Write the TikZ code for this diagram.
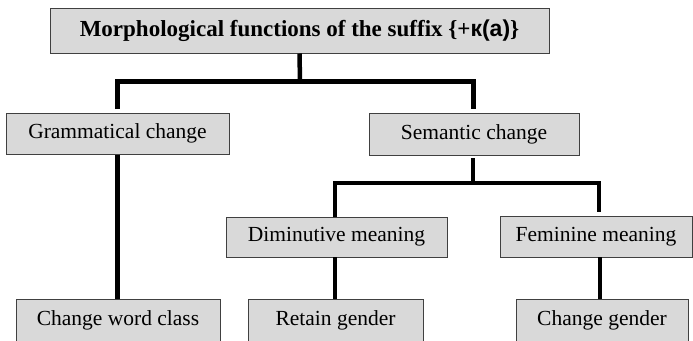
\documentclass[tikz,border=0pt]{standalone}
\usepackage{fontspec}
\setmainfont{Liberation Serif}
\newfontfamily\cyrsans{Liberation Sans}
\definecolor{boxfill}{HTML}{D9D9D9}
\definecolor{boxline}{HTML}{404040}
\begin{document}
\begin{tikzpicture}[x=1pt,y=-1pt,
  box/.style={draw=boxline, line width=1pt, fill=boxfill, inner sep=0pt,
    font=\fontsize{21.5}{24}\selectfont},
  conn/.style={line width=4.5pt, draw=black}]
\useasboundingbox (0,0) rectangle (693,340);
\node[box, minimum width=499pt, minimum height=45pt] (top) at (299.5,30.5)
  {\fontsize{23}{26}\selectfont\bfseries Morphological functions of the suffix \{+{\cyrsans к(а)}\}};
\node[box, minimum width=223pt, minimum height=41pt] (gram) at (117.5,133.5) {Grammatical change};
\node[box, minimum width=210pt, minimum height=42pt] (sem) at (474,134) {Semantic change};
\node[box, minimum width=204pt, minimum height=42pt] (cwc) at (118,320) {Change word class};
\node[box, minimum width=221pt, minimum height=40pt] (dim) at (336.5,237) {Diminutive meaning};
\node[box, minimum width=192pt, minimum height=41pt] (fem) at (596,236.5) {Feminine meaning};
\node[box, minimum width=175pt, minimum height=42pt] (ret) at (335.5,320) {Retain gender};
\node[box, minimum width=172pt, minimum height=42pt] (cg) at (602,320) {Change gender};
% top level
\coordinate (tb) at (300,81.5);
\coordinate (gl) at (117.5,109);
\coordinate (gr) at (473.5,109);
\draw[conn] (top.south) -- (tb);
\draw[conn] (gl) |- (tb) -| (gr);
% grammatical
\draw[conn] (gram.south) -- (gram.south |- cwc.north);
% semantic
\coordinate (ss) at (473,158);
\coordinate (sb) at (473,183);
\coordinate (sl) at (335,217);
\coordinate (sr) at (599,212);
\draw[conn] (ss) -- (sb);
\draw[conn] (sl) |- (sb) -| (sr);
% lower stems
\coordinate (dimx) at (335,257);
\draw[conn] (dimx) -- (dimx |- ret.north);
\coordinate (femx) at (600,257);
\draw[conn] (femx) -- (femx |- cg.north);
\end{tikzpicture}
\end{document}
